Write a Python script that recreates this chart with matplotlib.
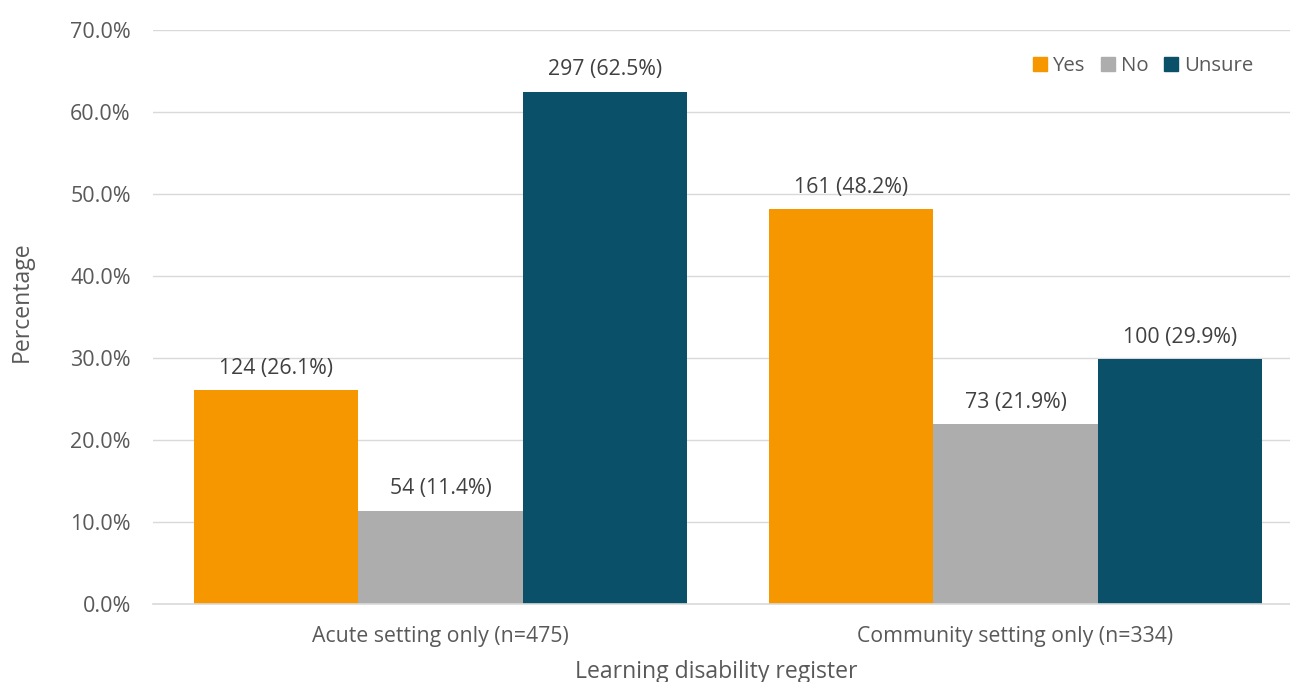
import matplotlib
matplotlib.use("Agg")
import matplotlib.pyplot as plt
import numpy as np
from matplotlib.lines import Line2D

categories = ["Acute setting only (n=475)", "Community setting only (n=334)"]
series_names = ["Yes", "No", "Unsure"]
counts = {"Yes": [124, 161], "No": [54, 73], "Unsure": [297, 100]}
percents = {"Yes": [26.1, 48.2], "No": [11.4, 21.9], "Unsure": [62.5, 29.9]}
colors = {"Yes": "#F79700", "No": "#ADADAD", "Unsure": "#0A5068"}

plt.rcParams['font.family'] = ['Open Sans', 'DejaVu Sans']
txt = "#595959"

fig = plt.figure(figsize=(12.9, 6.82), dpi=100)
ax = fig.add_axes([153/1290, (682-604)/682, 1150/1290, 574/682])

x = np.arange(len(categories))
w = 0.286
for i, s in enumerate(series_names):
    xs = x + (i - 1) * w
    ax.bar(xs, percents[s], width=w, color=colors[s], zorder=2)
    for xi, c, p in zip(xs, counts[s], percents[s]):
        ax.annotate(f"{c} ({p}%)", (xi, p), xytext=(0, 8), textcoords="offset points",
                    ha="center", va="bottom", fontsize=15.3, color="#404040")

ax.set_xlim(-0.5, 1.5)
ax.set_ylim(0, 70)
ax.set_yticks(np.arange(0, 71, 10))
ax.set_yticklabels([f"{v:.1f}%" for v in np.arange(0, 71, 10)])
ax.set_xticks(x)
ax.set_xticklabels(categories)
ax.tick_params(axis="y", length=0, pad=16, labelsize=15.5, labelcolor=txt)
ax.tick_params(axis="x", length=0, pad=16, labelsize=15.3, labelcolor=txt)
ax.grid(axis="y", color="#D9D9D9", lw=1, zorder=0)
for sp in ["top", "right", "left"]:
    ax.spines[sp].set_visible(False)
ax.spines["bottom"].set_color("#D9D9D9")
ax.spines["bottom"].set_linewidth(1.2)
ax.spines["bottom"].set_zorder(3)

fig.text(22/1290, 1 - 302/682, "Percentage", rotation=90, ha="center", va="center",
         fontsize=16.6, color=txt)
fig.text(716/1290, 1 - 672/682, "Learning disability register", ha="center", va="center",
         fontsize=16.6, color=txt)

handles = [Line2D([], [], marker="s", ls="none", markersize=10, color=colors[s]) for s in series_names]
fig.legend(handles, series_names, loc="center right", bbox_to_anchor=(1262/1290, 1 - 66/682),
           ncol=3, frameon=False, fontsize=14.7, handletextpad=0.15, columnspacing=0.6,
           labelcolor=txt, borderaxespad=0, handlelength=1.0)

fig.savefig("out.png", dpi=100)
